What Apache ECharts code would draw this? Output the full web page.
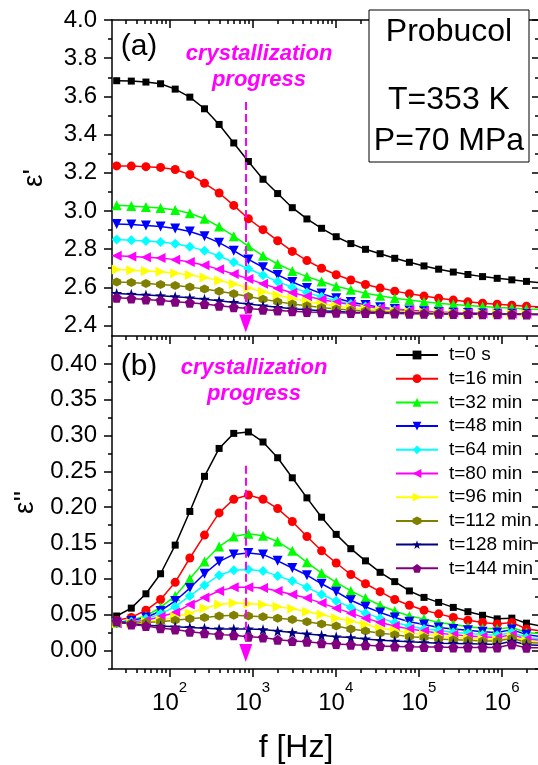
<!DOCTYPE html>
<html><head><meta charset="utf-8">
<script src="https://cdn.jsdelivr.net/npm/echarts@6/dist/echarts.min.js"></script>
<style>html,body{margin:0;padding:0;background:#fff}#c{width:538px;height:765px}</style>
</head><body><div id="c"></div>
<script>
// ---------- data ----------
const freq = [23.1, 34.65, 51.98, 77.96, 116.9, 175.4, 263.1, 394.7, 592.0, 888.0,
  1332, 1998, 2997, 4496, 6744, 10116, 15174, 22761, 34141, 51212,
  76818, 115227, 172840, 259260, 388890, 583335, 875003, 1312504, 1968756, 2953134];

const seriesNames = ['t=0 s','t=16 min','t=32 min','t=48 min','t=64 min','t=80 min','t=96 min','t=112 min','t=128 min','t=144 min'];
const seriesColors = ['#000000','#ff0000','#00ff00','#0000ff','#00ffff','#ff00ff','#ffff00','#808000','#000080','#800080'];

// epsilon' (panel a)
const epsP_0   = [3.682,3.680,3.675,3.666,3.638,3.596,3.535,3.453,3.356,3.259,3.166,3.091,3.017,2.958,2.909,2.865,2.829,2.799,2.776,2.752,2.731,2.712,2.695,2.680,2.667,2.656,2.647,2.639,2.631,2.623];
const epsP_16  = [3.236,3.235,3.232,3.228,3.217,3.190,3.145,3.094,3.029,2.959,2.902,2.844,2.788,2.740,2.700,2.666,2.638,2.615,2.596,2.580,2.566,2.554,2.543,2.533,2.524,2.517,2.511,2.506,2.501,2.497];
const epsP_32  = [3.030,3.026,3.021,3.015,3.005,2.988,2.959,2.918,2.868,2.816,2.765,2.722,2.686,2.656,2.630,2.606,2.587,2.569,2.556,2.543,2.533,2.524,2.517,2.510,2.505,2.499,2.494,2.491,2.487,2.484];
const epsP_48  = [2.932,2.929,2.924,2.918,2.908,2.892,2.867,2.834,2.792,2.746,2.705,2.665,2.628,2.596,2.567,2.543,2.523,2.507,2.495,2.486,2.479,2.474,2.470,2.467,2.465,2.463,2.462,2.461,2.460,2.459];
const epsP_64  = [2.850,2.847,2.843,2.837,2.828,2.813,2.792,2.764,2.731,2.697,2.663,2.630,2.600,2.573,2.550,2.530,2.513,2.500,2.489,2.481,2.475,2.470,2.467,2.465,2.463,2.462,2.461,2.460,2.460,2.459];
const epsP_80  = [2.765,2.762,2.758,2.753,2.745,2.733,2.716,2.694,2.670,2.644,2.618,2.594,2.572,2.553,2.536,2.522,2.510,2.500,2.492,2.485,2.479,2.474,2.470,2.467,2.465,2.463,2.462,2.461,2.460,2.459];
const epsP_96  = [2.693,2.690,2.686,2.681,2.674,2.665,2.652,2.636,2.617,2.597,2.577,2.558,2.541,2.526,2.513,2.502,2.493,2.486,2.480,2.475,2.471,2.468,2.466,2.464,2.463,2.462,2.461,2.460,2.460,2.459];
const epsP_112 = [2.628,2.625,2.620,2.615,2.609,2.601,2.591,2.579,2.566,2.552,2.538,2.525,2.513,2.503,2.494,2.487,2.481,2.476,2.472,2.469,2.467,2.465,2.464,2.463,2.462,2.461,2.460,2.460,2.459,2.459];
const epsP_128 = [2.568,2.564,2.560,2.556,2.551,2.545,2.538,2.530,2.521,2.512,2.503,2.495,2.488,2.482,2.477,2.473,2.470,2.468,2.466,2.465,2.464,2.463,2.462,2.461,2.461,2.460,2.460,2.459,2.459,2.458];
const epsP_144 = [2.545,2.541,2.536,2.531,2.525,2.519,2.512,2.504,2.496,2.489,2.483,2.478,2.474,2.471,2.469,2.467,2.466,2.465,2.464,2.463,2.462,2.461,2.461,2.460,2.460,2.459,2.459,2.458,2.458,2.458];

// epsilon'' (panel b)
const epsPP_0   = [0.048,0.059,0.079,0.107,0.147,0.194,0.243,0.282,0.303,0.305,0.291,0.269,0.241,0.213,0.186,0.162,0.142,0.125,0.109,0.096,0.083,0.074,0.067,0.060,0.054,0.049,0.044,0.045,0.038,0.034];
const epsPP_16  = [0.042,0.046,0.056,0.071,0.095,0.129,0.161,0.192,0.211,0.217,0.211,0.198,0.180,0.159,0.139,0.122,0.106,0.093,0.082,0.071,0.063,0.056,0.051,0.046,0.042,0.039,0.037,0.039,0.030,0.027];
const epsPP_32  = [0.039,0.042,0.048,0.060,0.076,0.100,0.124,0.145,0.159,0.163,0.160,0.152,0.139,0.123,0.108,0.095,0.083,0.073,0.063,0.055,0.048,0.044,0.039,0.036,0.033,0.031,0.030,0.032,0.025,0.023];
const epsPP_48  = [0.039,0.041,0.046,0.055,0.069,0.087,0.107,0.124,0.134,0.136,0.134,0.125,0.115,0.105,0.093,0.082,0.070,0.061,0.053,0.046,0.040,0.036,0.032,0.030,0.028,0.026,0.025,0.029,0.022,0.019];
const epsPP_64  = [0.038,0.040,0.044,0.051,0.061,0.076,0.091,0.105,0.112,0.113,0.111,0.104,0.097,0.088,0.078,0.069,0.060,0.052,0.045,0.039,0.034,0.030,0.028,0.025,0.024,0.022,0.021,0.025,0.018,0.016];
const epsPP_80  = [0.038,0.039,0.042,0.047,0.053,0.064,0.074,0.083,0.088,0.088,0.087,0.083,0.078,0.073,0.066,0.059,0.052,0.045,0.039,0.034,0.030,0.027,0.024,0.022,0.020,0.019,0.018,0.022,0.016,0.014];
const epsPP_96  = [0.038,0.038,0.040,0.042,0.047,0.052,0.059,0.064,0.066,0.065,0.064,0.061,0.058,0.054,0.050,0.045,0.041,0.036,0.031,0.028,0.024,0.022,0.020,0.018,0.017,0.016,0.015,0.019,0.013,0.011];
const epsPP_112 = [0.038,0.038,0.039,0.040,0.042,0.044,0.046,0.048,0.049,0.048,0.047,0.045,0.043,0.040,0.037,0.034,0.030,0.027,0.024,0.022,0.019,0.018,0.016,0.015,0.014,0.013,0.013,0.017,0.011,0.010];
const epsPP_128 = [0.040,0.037,0.035,0.034,0.033,0.032,0.031,0.030,0.030,0.030,0.029,0.027,0.025,0.023,0.021,0.019,0.018,0.016,0.014,0.013,0.012,0.011,0.010,0.0097,0.0092,0.0088,0.0083,0.013,0.0078,0.007];
const epsPP_144 = [0.041,0.036,0.034,0.031,0.029,0.026,0.024,0.022,0.021,0.019,0.018,0.015,0.013,0.012,0.010,0.009,0.008,0.007,0.006,0.0055,0.005,0.0046,0.0046,0.0041,0.0041,0.0041,0.0041,0.0083,0.0037,0.0035];

// tick values
const xMajorTicks = [100, 1000, 10000, 100000, 1000000];
const xMinorMult = [2,3,4,5,6,7,8,9];
const xMinorDecades = [10, 100, 1000, 10000, 100000, 1000000];
const y1MajorTicks = [2.4,2.6,2.8,3.0,3.2,3.4,3.6,3.8,4.0];
const y1MinorTicks = [2.5,2.7,2.9,3.1,3.3,3.5,3.7,3.9];
const y2MajorTicks = [0,0.05,0.10,0.15,0.20,0.25,0.30,0.35,0.40];
const y2MinorTicks = [-0.025,0.025,0.075,0.125,0.175,0.225,0.275,0.325,0.375,0.425];

// arrow annotation (frequency of the dashed line)
const arrowFreq = 826;

const epsP = [epsP_0,epsP_16,epsP_32,epsP_48,epsP_64,epsP_80,epsP_96,epsP_112,epsP_128,epsP_144];
const epsPP = [epsPP_0,epsPP_16,epsPP_32,epsPP_48,epsPP_64,epsPP_80,epsPP_96,epsPP_112,epsPP_128,epsPP_144];

// ---------- styling ----------
const FONT = "'Liberation Sans', Arial, sans-serif";
const X_MIN = 20.3, X_MAX = 2.71e6;
const Y1_MIN = 2.345, Y1_MAX = 4.0;
const Y2_MIN = -0.026, Y2_MAX = 0.439;
const xMinorTicks = [];
xMinorDecades.forEach(d => xMinorMult.forEach(m => xMinorTicks.push(m * d)));

const hexPath = 'path://M50,0 L93.3,25 L93.3,75 L50,100 L6.7,75 L6.7,25 Z';
const starPath = 'path://M50,0 L61.8,35.1 L98.9,35.5 L69.1,57.6 L79.4,93.1 L50,72 L20.6,93.1 L30.9,57.6 L1.1,35.5 L38.2,35.1 Z';
const pentPath = 'path://M50,0 L97.6,34.5 L79.4,90.5 L20.6,90.5 L2.4,34.5 Z';
const symbols = ['rect','circle','triangle','triangle','diamond','triangle','triangle',hexPath,starPath,pentPath];
const rotations = [0,0,0,180,0,90,-90,0,0,0];
const sizes = [7,9,10,10,10,10,10,9,11,10];

const BLACK = '#000';
function xAx(grid, pos, vals, len, inside, line, label, extra) {
  return Object.assign({
    type: 'log', logBase: 10, gridIndex: grid, position: pos, min: X_MIN, max: X_MAX,
    axisLine: {show: line, onZero: false, lineStyle: {color: BLACK, width: 1.5}},
    axisTick: {show: true, inside: inside, length: len, customValues: vals, lineStyle: {color: BLACK, width: 1.5}},
    axisLabel: label || {show: false},
    splitLine: {show: false}, minorTick: {show: false}, minorSplitLine: {show: false}
  }, extra || {});
}
function yAx(grid, pos, min, max, vals, len, inside, line, label, extra) {
  return Object.assign({
    type: 'value', gridIndex: grid, position: pos, min: min, max: max,
    axisLine: {show: line, onZero: false, lineStyle: {color: BLACK, width: 1.5}},
    axisTick: {show: true, inside: inside, length: len, customValues: vals, lineStyle: {color: BLACK, width: 1.5}},
    axisLabel: label || {show: false},
    splitLine: {show: false}, minorTick: {show: false}
  }, extra || {});
}

const xLabel = {
  show: true, customValues: xMajorTicks, margin: 11,
  formatter: v => '{b|10}{s|' + Math.round(Math.log10(v)) + '}',
  rich: {
    b: {fontSize: 24, fontFamily: FONT, color: BLACK, verticalAlign: 'bottom'},
    s: {fontSize: 15, fontFamily: FONT, color: BLACK, verticalAlign: 'bottom', padding: [0, 0, 20, 0]}
  }
};
const y1Label = {show: true, customValues: y1MajorTicks, margin: 15, fontSize: 24, fontFamily: FONT, color: BLACK, formatter: v => v.toFixed(1)};
const y2Label = {show: true, customValues: y2MajorTicks, margin: 15, fontSize: 24, fontFamily: FONT, color: BLACK, formatter: v => v.toFixed(2)};

const xAxes = [
  xAx(0, 'bottom', xMajorTicks, 8, false, true),
  xAx(0, 'bottom', xMinorTicks, 4, false, false),
  xAx(0, 'top', xMajorTicks, 8, true, true),
  xAx(0, 'top', xMinorTicks, 4, true, false),
  xAx(1, 'bottom', xMajorTicks, 8, false, true, xLabel, {
    name: 'f [Hz]', nameLocation: 'middle', nameGap: 63,
    nameTextStyle: {fontSize: 32, fontFamily: FONT, color: BLACK, padding: [0, 58, 0, 0]}
  }),
  xAx(1, 'bottom', xMinorTicks, 4, false, false)
];
const yAxes = [
  yAx(0, 'left', Y1_MIN, Y1_MAX, y1MajorTicks, 8, false, true, y1Label, {
    name: "ε'", nameLocation: 'middle', nameGap: 64,
    nameTextStyle: {fontSize: 28, fontFamily: FONT, color: BLACK}
  }),
  yAx(0, 'left', Y1_MIN, Y1_MAX, y1MinorTicks, 4, false, false),
  yAx(0, 'right', Y1_MIN, Y1_MAX, y1MajorTicks, 6, true, false),
  yAx(0, 'right', Y1_MIN, Y1_MAX, y1MinorTicks, 3, true, false),
  yAx(1, 'left', Y2_MIN, Y2_MAX, y2MajorTicks, 8, false, true, y2Label, {
    name: "ε''", nameLocation: 'middle', nameGap: 64,
    nameTextStyle: {fontSize: 28, fontFamily: FONT, color: BLACK}
  }),
  yAx(1, 'left', Y2_MIN, Y2_MAX, y2MinorTicks, 4, false, false),
  yAx(1, 'right', Y2_MIN, Y2_MAX, y2MajorTicks, 6, true, false),
  yAx(1, 'right', Y2_MIN, Y2_MAX, y2MinorTicks, 3, true, false)
];

const arrowLine = (y0, y1) => ({
  silent: true, animation: false, symbol: ['none', 'triangle'], symbolSize: [13, 18],
  label: {show: false},
  lineStyle: {color: '#ff00ff', width: 2, type: [8, 4]},
  itemStyle: {color: '#ff00ff'},
  emphasis: {disabled: true},
  data: [[{coord: [arrowFreq, y0]}, {coord: [arrowFreq, y1]}]]
});

const series = [];
[0, 1].forEach(panel => {
  const vals = panel === 0 ? epsP : epsPP;
  vals.forEach((arr, i) => {
    const s = {
      name: seriesNames[i], type: 'line',
      xAxisIndex: panel === 0 ? 0 : 4, yAxisIndex: panel === 0 ? 0 : 4,
      data: freq.map((f, j) => [f, arr[j]]),
      symbol: symbols[i], symbolRotate: rotations[i], symbolSize: sizes[i],
      showSymbol: true, showAllSymbol: true, clip: true,
      lineStyle: {color: seriesColors[i], width: 1.5},
      itemStyle: {color: seriesColors[i]},
      emphasis: {disabled: true}, animation: false
    };
    if (i === 0) s.markLine = panel === 0 ? arrowLine(3.570, 2.410) : arrowLine(0.2577, -0.0037);
    series.push(s);
  });
});

const magentaText = (txt, x, y) => ({
  type: 'text', x: x, y: y, z: 50,
  style: {text: txt, fill: '#ff00ff', font: "italic bold 22px 'Liberation Sans', Arial, sans-serif", align: 'center', verticalAlign: 'middle'}
});
const plainText = (txt, x, y, size) => ({
  type: 'text', x: x, y: y, z: 101,
  style: {text: txt, fill: BLACK, font: size + "px 'Liberation Sans', Arial, sans-serif", align: 'center', verticalAlign: 'middle'}
});

const option = {
  backgroundColor: '#fff',
  animation: false,
  grid: [
    {left: 112, top: 20, width: 429, height: 316, containLabel: false},
    {left: 112, top: 336, width: 429, height: 336, containLabel: false}
  ],
  xAxis: xAxes,
  yAxis: yAxes,
  legend: {
    data: seriesNames, orient: 'vertical', left: 395, top: 345.5, padding: 0,
    itemWidth: 42, itemHeight: 11, itemGap: 4.7,
    textStyle: {fontSize: 19, fontFamily: FONT, color: BLACK, lineHeight: 19, padding: [0, 0, 0, 6]},
    selectedMode: false
  },
  graphic: [
    {type: 'rect', z: 100, shape: {x: 369, y: 10, width: 160, height: 152}, style: {fill: '#fff', stroke: BLACK, lineWidth: 1}},
    plainText('Probucol', 449, 32, 32),
    plainText('T=353 K', 449, 100, 32),
    plainText('P=70 MPa', 449, 141, 32),
    plainText('(a)', 139, 47, 30),
    plainText('(b)', 139, 367, 30),
    magentaText('crystallization', 259, 54),
    magentaText('progress', 259, 80),
    magentaText('crystallization', 254, 368),
    magentaText('progress', 254, 394)
  ],
  series: series
};

const chart = echarts.init(document.getElementById('c'), null, {renderer: 'canvas'});
chart.setOption(option);
</script>
</body></html>
